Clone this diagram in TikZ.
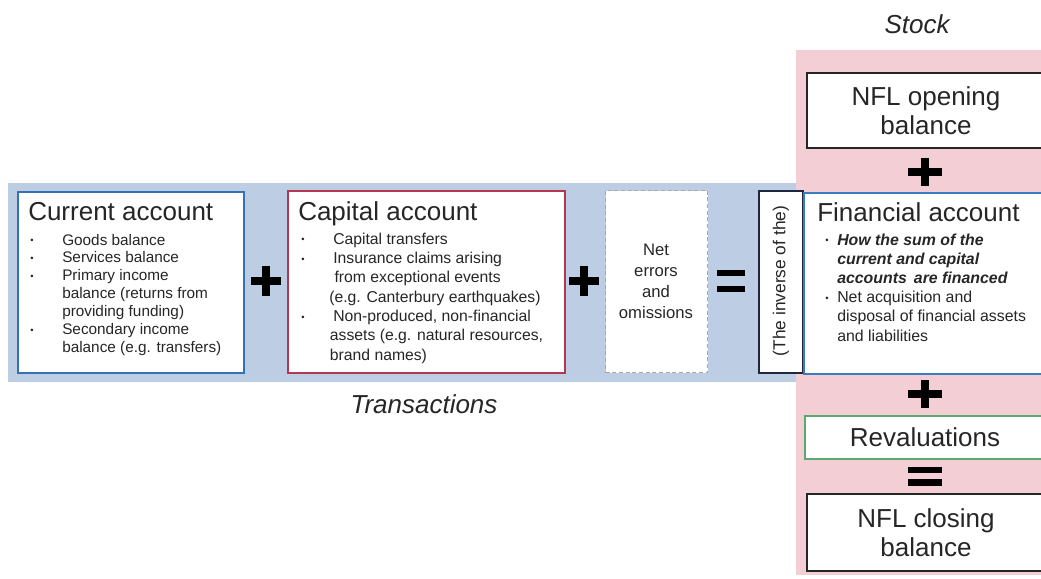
\documentclass[tikz,border=0pt]{standalone}
\usepackage{fontspec}
\setmainfont{Liberation Sans}
\definecolor{bandblue}{HTML}{BDCDE4}
\definecolor{stockpink}{HTML}{F4CED5}
\definecolor{curblue}{HTML}{3470B5}
\definecolor{finblue}{HTML}{3A7CC0}
\definecolor{capred}{HTML}{B3384F}
\definecolor{revgreen}{HTML}{5AAA70}
\definecolor{navyline}{HTML}{1E2742}
\definecolor{dashgray}{HTML}{A8A8A8}
\definecolor{ink}{HTML}{262626}
\newcommand{\bl}{\raisebox{0.15ex}{\fontsize{7}{7}\selectfont\textbullet}}
\tikzset{
  box/.style={draw, fill=white, line width=1.5pt, inner sep=0pt, anchor=north west},
  txt/.style={inner sep=0pt, text=ink},
  titlefont/.style={txt, font=\fontsize{19.5}{22}\selectfont},
  bigfont/.style={txt, align=center, font=\fontsize{19.5}{21.75}\selectfont},
  plussign/.pic={\fill (-15,-4) rectangle (15,4); \fill (-4,-15) rectangle (4,15);},
  plusbig/.pic={\fill (-17,-4) rectangle (17,4); \fill (-4,-14) rectangle (4,14);},
  eqsign/.pic={\fill (-14,-11) rectangle (14,-5); \fill (-14,5) rectangle (14,11);},
  eqbig/.pic={\fill (-17,-9.5) rectangle (17,-3); \fill (-17,3) rectangle (17,9.5);}
}
\begin{document}
\begin{tikzpicture}[x=0.75pt,y=-0.75pt]
\useasboundingbox (0,0) rectangle (1041,578);
\clip (0,0) rectangle (1041,578);
\fill[white] (0,0) rectangle (1041,578);
% background bands
\fill[bandblue] (8,183) rectangle (797,382);
\fill[stockpink] (796,50) rectangle (1045,575);

% boxes
\node[box, draw=curblue, minimum width=226*0.75pt, minimum height=181*0.75pt] (cur) at (17,191) {};
\node[box, draw=capred, minimum width=277*0.75pt, minimum height=182*0.75pt] (cap) at (287,190) {};
\node[box, draw=dashgray, line width=1pt, dash pattern=on 3pt off 2pt, minimum width=102*0.75pt, minimum height=182*0.75pt] (net) at (605,190) {};
\node[box, draw=navyline, minimum width=44*0.75pt, minimum height=182*0.75pt] (inv) at (758,190) {};
\node[box, draw=finblue, minimum width=250*0.75pt, minimum height=181*0.75pt] (fin) at (803,192) {};
\node[box, draw=ink, minimum width=250*0.75pt, minimum height=75*0.75pt] (open) at (806,72) {};
\node[box, draw=revgreen, minimum width=250*0.75pt, minimum height=43*0.75pt] (rev) at (804,415) {};
\node[box, draw=ink, minimum width=250*0.75pt, minimum height=77*0.75pt] (close) at (806,493) {};

% current account
\node[titlefont, anchor=base west] (curtitle) at (28,220) {Current account};
\node[txt, anchor=base west] (curbody) at (30,245) {\fontsize{11.5}{13.4}\selectfont\begin{tabular}[t]{@{}p{24pt}@{}l@{}}
\bl & Goods balance\\
\bl & Services balance\\
\bl & Primary income\\
 & balance (returns from\\
 & providing funding)\\
\bl & Secondary income\\
 & balance (e.g. transfers)
\end{tabular}};

% capital account
\node[titlefont, anchor=base west] (captitle) at (298,220) {Capital account};
\node[txt, anchor=base west] (capbody) at (301,244) {\fontsize{11.8}{14.5}\selectfont\begin{tabular}[t]{@{}p{24pt}@{}l@{}}
\bl & Capital transfers\\
\bl & Insurance claims arising\\
 & \hspace{1pt}from exceptional events\\
 & \hspace{-3pt}(e.g. Canterbury earthquakes)\\
\bl & Non-produced, non-financial\\
 & \hspace{-2.5pt}assets (e.g. natural resources,\\
 & \hspace{-2.5pt}brand names)
\end{tabular}};

% net errors
\node[txt, align=center, font=\fontsize{12.5}{15.75}\selectfont] (nettext) at (656,281) {Net\\errors\\and\\omissions};

% inverse
\node[txt, rotate=90, font=\fontsize{13}{15}\selectfont] (invtext) at (781,281) {(The inverse of the)};

% financial account
\node[titlefont, anchor=base west] (fintitle) at (817,221) {Financial account};
\node[txt, anchor=base west] (finbody) at (825,245) {\fontsize{11.9}{14.4}\selectfont\begin{tabular}[t]{@{}p{9pt}@{}l@{}}
\bl & \bfseries\itshape How the sum of the\\
 & \bfseries\itshape current and capital\\
 & \bfseries\itshape accounts\, are financed\\
\bl & Net acquisition and\\
 & disposal of financial assets\\
 & and liabilities
\end{tabular}};

% stock column texts
\node[bigfont] (opentext) at (926,111) {NFL opening\\balance};
\node[bigfont] (revtext) at (925,437) {Revaluations};
\node[bigfont] (closetext) at (926,533) {NFL closing\\balance};

% labels
\node[txt, font=\fontsize{19.5}{22}\selectfont\itshape] (stock) at (917,24) {Stock};
\node[txt, font=\fontsize{19.5}{22}\selectfont\itshape] (trans) at (424,404) {Transactions};

% operators
\pic[black] at (266,281) {plussign};
\pic[black] at (584,281) {plussign};
\pic[black] at (731,281) {eqsign};
\pic[black] at (925,172) {plusbig};
\pic[black] at (925,394) {plusbig};
\pic[black] at (925,476) {eqbig};
\end{tikzpicture}
\end{document}
